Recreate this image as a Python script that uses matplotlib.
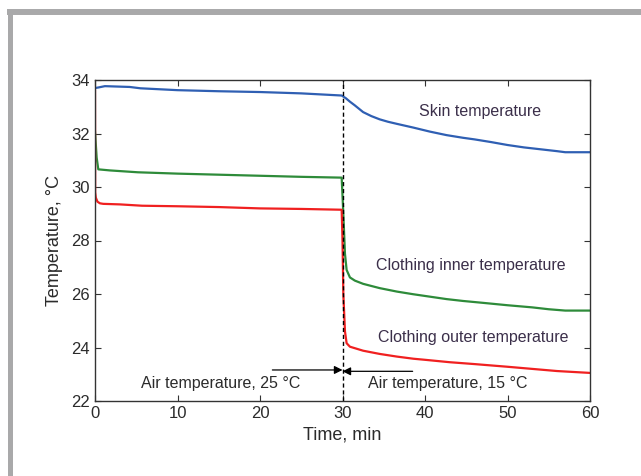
import matplotlib
matplotlib.use("Agg")
import matplotlib.pyplot as plt
from matplotlib.lines import Line2D

# ---- data ----
skin_t = [0, 0.4, 1.2, 4.2, 5.5, 10, 15, 20, 25, 29.9, 30.4, 30.9, 31.5, 32.5, 33.5, 34.5, 35.5, 36.6, 38.6, 40.6,
          42.6, 44.6, 46, 48, 50, 52, 54, 56, 57, 60]
skin_v = [33.7, 33.72, 33.77, 33.74, 33.69, 33.62, 33.58, 33.55, 33.5, 33.42, 33.32, 33.19, 33.05, 32.8, 32.65,
          32.53, 32.44, 32.36, 32.22, 32.07, 31.94, 31.84, 31.78, 31.68, 31.57, 31.48, 31.41, 31.34, 31.3, 31.3]

inner_t = [0, 0.2, 0.4, 1.8, 5.2, 10, 15, 20, 25, 29.9, 30.1, 30.3, 30.5, 30.9, 31.5, 32.5, 34.5, 36.6, 38.6, 40.6,
           42.6, 44.6, 47, 50, 53, 55, 57, 60]
inner_v = [32.07, 31.1, 30.66, 30.62, 30.55, 30.5, 30.46, 30.42, 30.38, 30.35, 29.0, 27.5, 26.9, 26.62, 26.5, 26.38,
           26.22, 26.09, 25.99, 25.9, 25.81, 25.74, 25.67, 25.58, 25.5, 25.43, 25.38, 25.38]

outer_t = [0, 0.02, 0.1, 0.3, 0.6, 1, 3, 5.7, 10, 15, 20, 25, 29.9, 30, 30.1, 30.3, 30.5, 30.9, 32.5, 34.5, 36.6,
           38.6, 40, 43, 46, 50, 53, 56, 60]
outer_v = [33.6, 29.8, 29.6, 29.45, 29.39, 29.37, 29.35, 29.3, 29.28, 29.25, 29.2, 29.18, 29.15, 28.0, 26.0, 24.6,
           24.16, 24.03, 23.88, 23.76, 23.66, 23.58, 23.54, 23.45, 23.38, 23.28, 23.2, 23.12, 23.05]

x_ticks = [0, 10, 20, 30, 40, 50, 60]
y_ticks = [22, 24, 26, 28, 30, 32, 34]

plt.rcParams['font.family'] = ['Liberation Sans', 'DejaVu Sans']
txt_color = '#2b2b2b'

fig = plt.figure(figsize=(6.41, 4.76), dpi=100)
ax = fig.add_axes([95/641, 1-401/476, (590-95)/641, (401-80)/476])

ax.plot(skin_t, skin_v, color='#2f5fb3', lw=1.6)
ax.plot(inner_t, inner_v, color='#2e8b3a', lw=1.6)
ax.plot(outer_t, outer_v, color='#f02020', lw=1.6)

ax.axvline(30, color='black', lw=1.0, ls=(0, (3, 2)))

# arrows
ax.annotate('', xy=(30, 23.16), xytext=(21.5, 23.16),
            arrowprops=dict(arrowstyle='-|>', color='black', lw=0.9, mutation_scale=12, shrinkA=0, shrinkB=0))
ax.annotate('', xy=(30, 23.11), xytext=(38.5, 23.11),
            arrowprops=dict(arrowstyle='-|>', color='black', lw=0.9, mutation_scale=12, shrinkA=0, shrinkB=0))

fs = 11.5
ax.text(15.2, 22.67, 'Air temperature, 25 °C', ha='center', va='center', fontsize=fs, color=txt_color)
ax.text(42.7, 22.67, 'Air temperature, 15 °C', ha='center', va='center', fontsize=fs, color=txt_color)
ax.text(46.7, 32.84, 'Skin temperature', ha='center', va='center', fontsize=fs, color='#3b2f4a')
ax.text(45.6, 27.06, 'Clothing inner temperature', ha='center', va='center', fontsize=fs, color='#3b2f4a')
ax.text(45.9, 24.37, 'Clothing outer temperature', ha='center', va='center', fontsize=fs, color='#3b2f4a')

ax.set_xlim(0, 60)
ax.set_ylim(22, 34)
ax.set_xticks(x_ticks)
ax.set_yticks(y_ticks)
ax.tick_params(direction='in', top=True, right=True, length=4, width=0.8, labelsize=12,
               colors='#333333', labelcolor=txt_color)
for s in ax.spines.values():
    s.set_color('#333333')
    s.set_linewidth(1.0)

ax.set_xlabel('Time, min', fontsize=13, color=txt_color, labelpad=4)
ax.set_ylabel('Temperature, °C', fontsize=13, color=txt_color, labelpad=6)

# gray frame (left and top)
frame_c = '#a9a9aa'
fig.add_artist(Line2D([9.7/641, 9.7/641], [0, 1-12/476], transform=fig.transFigure, color=frame_c, lw=3.6,
                      solid_capstyle='butt'))
fig.add_artist(Line2D([7.3/641, 1], [1-12/476, 1-12/476], transform=fig.transFigure, color=frame_c, lw=4.3,
                      solid_capstyle='butt'))

fig.savefig('out.png', dpi=100, facecolor='white')
